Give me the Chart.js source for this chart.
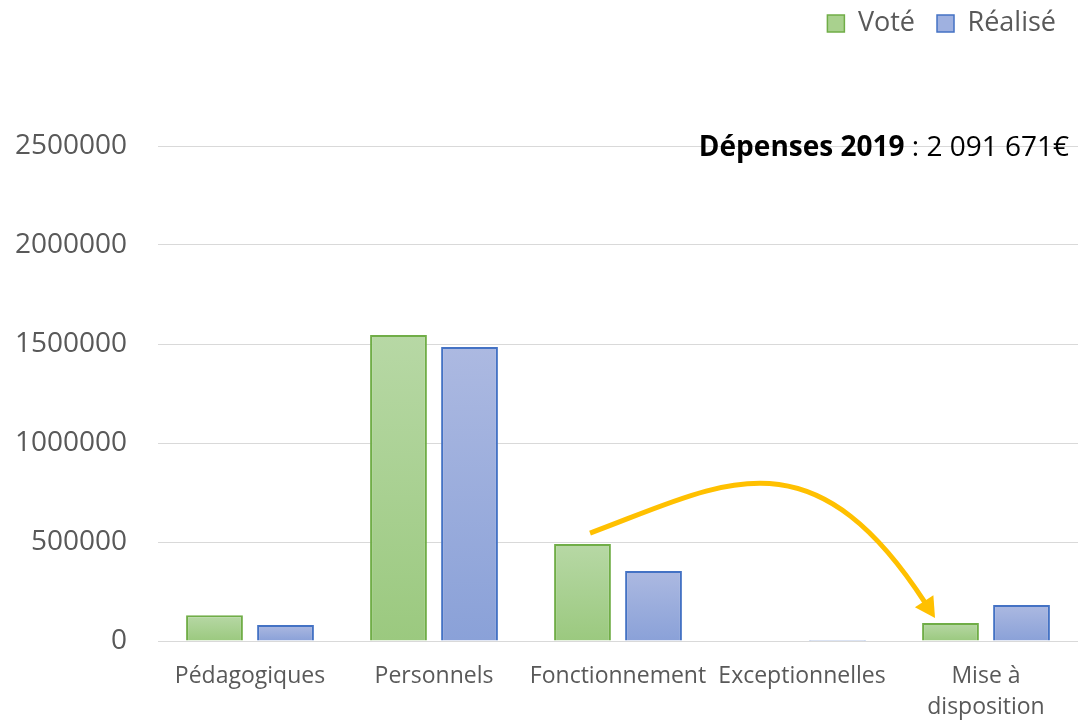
<!DOCTYPE html>
<html>
<head>
<meta charset="utf-8">
<script src="https://cdn.jsdelivr.net/npm/chart.js@4.4.1/dist/chart.umd.min.js"></script>
<style>
  html, body { margin: 0; background: #fff; }
  #wrap { width: 1078px; height: 721px; }
</style>
</head>
<body>
<div id="wrap"><canvas id="depenses-chart"></canvas></div>
<script>
const categories = ["Pédagogiques", "Personnels", "Fonctionnement", "Exceptionnelles", ["Mise à", "disposition"]]
const vote = [130000, 1545000, 490000, 0, 91000]
const realise = [81000, 1485000, 354000, 5000, 182000]
const yTicks = [0, 500000, 1000000, 1500000, 2000000, 2500000]
const totalLabel = "Dépenses 2019"
const totalValue = " : 2 091 671€"
// arrow in data space: [category index, value]
const arrowPath = [[1.848, 545000], [2.554, 788000], [3.043, 1090000], [3.723, 116000]]

const FONT = "'Open Sans', 'Liberation Sans', sans-serif"
const GREY = "#595959"

function barFill(top, bottom) {
  return (ctx) => {
    const chart = ctx.chart
    const y = chart.scales.y
    if (!chart.chartArea || !y || ctx.type !== "data") return bottom
    const yTop = y.getPixelForValue(ctx.raw)
    const yBase = y.getPixelForValue(0)
    if (yBase - yTop < 2) return bottom
    const g = chart.ctx.createLinearGradient(0, yTop, 0, yBase)
    g.addColorStop(0, top)
    g.addColorStop(1, bottom)
    return g
  }
}

const legendFill = ["#a9d18e", "#9fb1e0"]

const legendSpacer = {
  id: "legendSpacer",
  beforeInit(chart) {
    const fit = chart.legend.fit
    chart.legend.fit = function () {
      fit.call(this)
      this.height = 158
    }
  },
}

const arrowPlugin = {
  id: "arrow",
  afterDatasetsDraw(chart) {
    const { ctx, scales } = chart
    const pts = arrowPath.map(([i, v]) => [scales.x.getPixelForValue(i), scales.y.getPixelForValue(v)])
    const [p0, p1, p2, tip] = pts
    const dx = tip[0] - p2[0]
    const dy = tip[1] - p2[1]
    const len = Math.hypot(dx, dy)
    const ux = dx / len
    const uy = dy / len
    const headLen = 20
    const headHalf = 11
    const base = [tip[0] - ux * headLen, tip[1] - uy * headLen]
    ctx.save()
    ctx.strokeStyle = "#ffc000"
    ctx.fillStyle = "#ffc000"
    ctx.lineWidth = 5
    ctx.beginPath()
    ctx.moveTo(p0[0], p0[1])
    ctx.bezierCurveTo(p1[0], p1[1], p2[0], p2[1], base[0] + ux * 2, base[1] + uy * 2)
    ctx.stroke()
    ctx.beginPath()
    ctx.moveTo(tip[0], tip[1])
    ctx.lineTo(base[0] - uy * headHalf, base[1] + ux * headHalf)
    ctx.lineTo(base[0] + uy * headHalf, base[1] - ux * headHalf)
    ctx.closePath()
    ctx.fill()
    ctx.restore()
  },
}

const totalPlugin = {
  id: "total",
  afterDraw(chart) {
    const { ctx, chartArea, scales } = chart
    const y = scales.y.getPixelForValue(yTicks[yTicks.length - 1]) + 2
    const right = chartArea.right - 9
    ctx.save()
    ctx.textBaseline = "middle"
    ctx.fillStyle = "#000"
    ctx.font = "28px " + FONT
    const w2 = ctx.measureText(totalValue).width
    ctx.font = "bold 28px " + FONT
    const w1 = ctx.measureText(totalLabel).width
    ctx.fillText(totalLabel, right - w2 - w1, y)
    ctx.font = "28px " + FONT
    ctx.fillText(totalValue, right - w2, y)
    ctx.restore()
  },
}

new Chart(document.getElementById("depenses-chart"), {
  type: "bar",
  data: {
    labels: categories,
    datasets: [
      {
        label: "Voté",
        data: vote,
        backgroundColor: barFill("#b7d8a5", "#9bc97f"),
        borderColor: "#70ad47",
        borderWidth: 2,
      },
      {
        label: "Réalisé",
        data: realise,
        backgroundColor: barFill("#acb9e1", "#8aa1d8"),
        borderColor: "#4472c4",
        borderWidth: 2,
      },
    ],
  },
  options: {
    responsive: true,
    maintainAspectRatio: false,
    animation: false,
    layout: { padding: { top: -12, left: 0, right: 0, bottom: 0 } },
    datasets: {
      bar: { categoryPercentage: 0.772, barPercentage: 0.8 },
    },
    plugins: {
      tooltip: { enabled: false },
      legend: {
        position: "top",
        align: "end",
        labels: {
          boxWidth: 17,
          boxHeight: 17,
          padding: 22,
          color: GREY,
          font: { family: FONT, size: 27 },
          generateLabels: (chart) =>
            chart.data.datasets.map((ds, i) => ({
              text: ds.label,
              fillStyle: legendFill[i],
              strokeStyle: ds.borderColor,
              lineWidth: 1.5,
              hidden: false,
              datasetIndex: i,
              fontColor: GREY,
            })),
        },
      },
    },
    scales: {
      x: {
        grid: { display: false },
        border: { color: "#d9d9d9", width: 1 },
        ticks: {
          color: GREY,
          font: { family: FONT, size: 23, lineHeight: 1.35 },
          padding: 12,
          maxRotation: 0,
          autoSkip: false,
        },
        afterFit: (scale) => { scale.height = 80 },
      },
      y: {
        min: yTicks[0],
        max: yTicks[yTicks.length - 1],
        grid: { color: "#d9d9d9", lineWidth: 1, drawTicks: false },
        border: { display: false },
        ticks: {
          stepSize: yTicks[1] - yTicks[0],
          color: GREY,
          padding: 31,
          font: { family: FONT, size: 28 },
          callback: (v) => String(v),
        },
        afterFit: (scale) => { scale.width = 158 },
      },
    },
  },
  plugins: [legendSpacer, arrowPlugin, totalPlugin],
})
</script>
</body>
</html>
